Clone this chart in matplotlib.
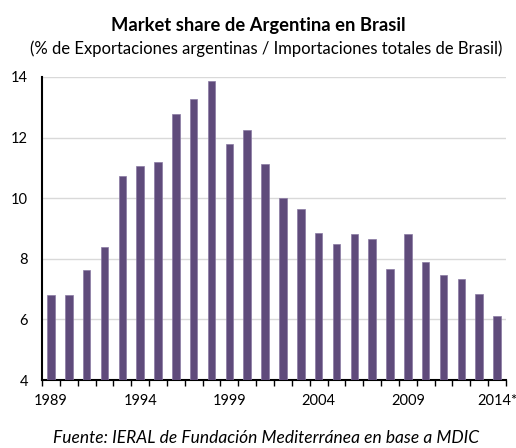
import matplotlib
matplotlib.use("Agg")
import matplotlib.pyplot as plt
import numpy as np

years = ["1989", "1990", "1991", "1992", "1993", "1994", "1995", "1996", "1997",
         "1998", "1999", "2000", "2001", "2002", "2003", "2004", "2005", "2006",
         "2007", "2008", "2009", "2010", "2011", "2012", "2013", "2014*"]
share = [6.8, 6.8, 7.62, 8.39, 10.74, 11.06, 11.18, 12.77, 13.28, 13.86, 11.79,
         12.24, 11.14, 10.02, 9.64, 8.84, 8.48, 8.81, 8.64, 7.66, 8.81, 7.9,
         7.46, 7.33, 6.85, 6.12]
yticks = [4, 6, 8, 10, 12, 14]

plt.rcParams['font.family'] = ['Lato', 'DejaVu Sans']

fig = plt.figure(figsize=(5.16, 4.48), dpi=100)
ax = fig.add_axes([42/516, 1 - 380/448, (506-42)/516, (380-77)/448])

x = np.arange(len(years))
ax.bar(x, np.array(share) - 4, bottom=4, width=0.42, color="#5f4b7b",
       edgecolor="#8a7aa3", linewidth=0.5, zorder=3)

ax.set_ylim(4, 14)
ax.set_xlim(-0.5, len(years) - 0.5)
ax.set_yticks(yticks)
ax.set_yticklabels([str(v) for v in yticks], fontsize=10.5)
ax.tick_params(axis='y', length=0, pad=10)
ax.yaxis.grid(True, color="#d9d9d9", linewidth=1, zorder=0)
ax.set_axisbelow(True)

major = x[::5]
ax.set_xticks(major)
ax.set_xticklabels([years[i] for i in major], fontsize=10.5)
ax.tick_params(axis='x', length=0, pad=10)
ax.set_xticks(np.arange(-0.5, len(years)), minor=True)
ax.tick_params(axis='x', which='minor', direction='out', length=4, width=1, color='black')

for s in ["top", "right"]:
    ax.spines[s].set_visible(False)
ax.spines["left"].set_color("black")
ax.spines["bottom"].set_color("black")
ax.spines["left"].set_linewidth(1.5)
ax.spines["bottom"].set_linewidth(1.5)

fig.text(0.5, 1 - 25/448, "Market share de Argentina en Brasil", ha="center",
         va="center", fontsize=13.2, fontweight="bold")
fig.text(0.515, 1 - 49/448, "(% de Exportaciones argentinas / Importaciones totales de Brasil)",
         ha="center", va="center", fontsize=12)
fig.text(0.516, 1 - 438/448, "Fuente: IERAL de Fundación Mediterránea en base a MDIC",
         ha="center", va="center", fontsize=12.5, style="italic")

fig.savefig("out.png", dpi=100)
